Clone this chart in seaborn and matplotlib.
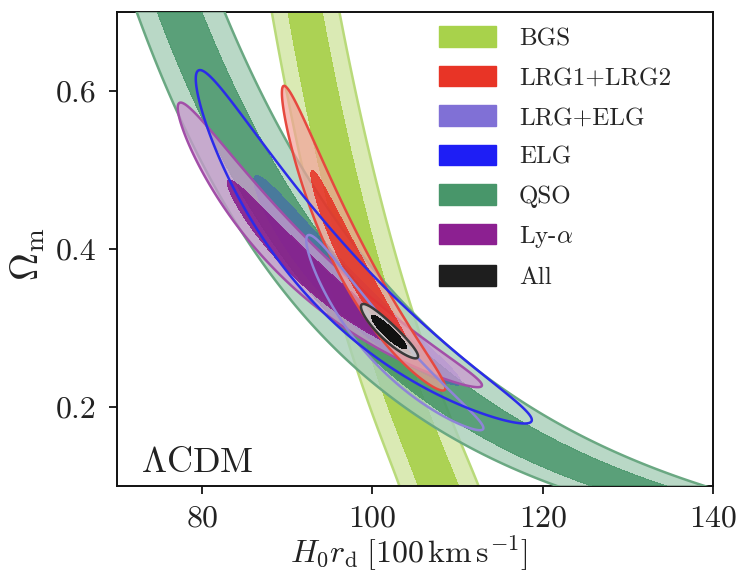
import numpy as np
import matplotlib
matplotlib.use("Agg")
import matplotlib.pyplot as plt
import seaborn as sns
from matplotlib.patches import Patch

# BAO posteriors per tracer, each described as a Gaussian in (ln H0rd, ln Om)
# around a pivot, with a (slightly curved) degeneracy direction.
samples = ["BGS", "LRG1+LRG2", "LRG+ELG", "ELG", "QSO", r"Ly-$\alpha$", "All"]
h0rd_pivot = [100.9, 98.5, 102.1, 97.8, 99.7, 93.3, 101.95]
om_pivot = [0.300, 0.366, 0.267, 0.335, 0.300, 0.363, 0.294]
deg_slope = [-0.087, -0.187, -0.219, -0.312, -0.275, -0.389, -0.257]
deg_curv = [-0.025, 0.0, 0.0, -0.0225, -0.030, 0.0, 0.0]
sig_across = [0.022, 0.0095, 0.011, 0.021, 0.034, 0.0167, 0.0055]
sig_along = [np.inf, 0.205, 0.182, 0.254, np.inf, 0.1945, 0.0477]

x_ticks = [80, 100, 120, 140]
y_ticks = [0.2, 0.4, 0.6]

# stacking of fills and outlines (wide bands underneath, combined result on top)
fill_z = {"BGS": 2, "QSO": 3, "ELG": 4, r"Ly-$\alpha$": 5, "LRG1+LRG2": 6, "LRG+ELG": 7, "All": 9}
line_z = {"BGS": 2.5, "QSO": 3.5, "ELG": 8.5, r"Ly-$\alpha$": 5.5, "LRG1+LRG2": 6.5,
          "LRG+ELG": 7.5, "All": 9.5}

styles = {
    "BGS": dict(dark="#a8d04b", light="#d8e9b0", edge="#b9da7a", fill=(0.95, 0.95)),
    "LRG1+LRG2": dict(dark="#e8342a", light="#f3a29a", edge="#e6493f", fill=(0.9, 0.7)),
    "LRG+ELG": dict(dark="#8070d6", light="#8070d6", edge="#8f84d8", fill=(0.0, 0.0)),
    "ELG": dict(dark="#2424f0", light="#2424f0", edge="#2b2bea", fill=(0.3, 0.0)),
    "QSO": dict(dark="#48966a", light="#a8cfb8", edge="#6aa882", fill=(0.9, 0.8)),
    r"Ly-$\alpha$": dict(dark="#8a1f8e", light="#cb9bd0", edge="#a24fa8", fill=(0.92, 0.75)),
    "All": dict(dark="#111111", light="#c9c9c9", edge="#3a3a3a", fill=(1.0, 0.9)),
}
legend_colors = ["#a8d24b", "#e83426", "#8070d6", "#1e1ef5", "#48966a", "#8c2091", "#1e1e1e"]

sns.set_theme(style="ticks")
plt.rcParams["font.family"] = ["cmr10", "DejaVu Serif"]
plt.rcParams["mathtext.fontset"] = "cm"
plt.rcParams["axes.formatter.use_mathtext"] = True
plt.rcParams["axes.unicode_minus"] = False

fig = plt.figure(figsize=(7.37, 5.82), dpi=100)
ax = fig.add_axes([0.1588, 0.1649, 0.8086, 0.8145])

hg = np.linspace(40, 240, 2001)
og = np.linspace(0.005, 0.995, 1981)
H, OM = np.meshgrid(hg, og)
lnH, lnOM = np.log(H), np.log(OM)


def credible_levels(dens, fracs):
    flat = np.sort(dens.ravel())[::-1]
    cum = np.cumsum(flat)
    cum /= cum[-1]
    return [flat[min(np.searchsorted(cum, f), flat.size - 1)] for f in fracs]


for i, name in enumerate(samples):
    q = lnOM - np.log(om_pivot[i])
    d = lnH - np.log(h0rd_pivot[i]) - deg_slope[i] * q - deg_curv[i] * q ** 2
    chi2 = (d / sig_across[i]) ** 2
    if np.isfinite(sig_along[i]):
        chi2 = chi2 + (q / sig_along[i]) ** 2
    dens = np.exp(-0.5 * chi2)
    l68, l95 = credible_levels(dens, [0.68, 0.95])
    st = styles[name]
    a68, a95 = st["fill"]
    if a95 > 0:
        ax.contourf(H, OM, dens, levels=[l95, l68], colors=[st["light"]], alpha=a95,
                    zorder=fill_z[name])
    if a68 > 0:
        ax.contourf(H, OM, dens, levels=[l68, 1.01], colors=[st["dark"]], alpha=a68,
                    zorder=fill_z[name])
    ax.contour(H, OM, dens, levels=[l95], colors=[st["edge"]], linewidths=1.8,
               zorder=line_z[name])

ax.set_xlim(70, 140)
ax.set_ylim(0.1, 0.7)
ax.set_xticks(x_ticks)
ax.set_yticks(y_ticks)
ax.set_xticklabels([str(t) for t in x_ticks])
ax.set_yticklabels([f"{t:.1f}" for t in y_ticks])
ax.tick_params(axis="both", direction="out", length=6, width=1.2, labelsize=23, color="black",
               labelcolor="#222222")
ax.tick_params(axis="x", pad=8)
ax.tick_params(axis="y", pad=9)
for sp in ax.spines.values():
    sp.set_visible(True)
    sp.set_color("#111111")
    sp.set_linewidth(1.4)

ax.set_xlabel(r"$H_0r_\mathrm{d}\;[100\,\mathrm{km\,s^{-1}}]$", fontsize=23, color="#222222")
ax.xaxis.set_label_coords(0.49, -0.1)
ax.set_ylabel(r"$\Omega_\mathrm{m}$", fontsize=28, color="#222222")
ax.yaxis.set_label_coords(-0.118, 0.49)

ax.text(0.04, 0.03, r"$\Lambda\mathrm{CDM}$", transform=ax.transAxes, fontsize=26,
        ha="left", va="baseline", color="#222222", zorder=20)

handles = [Patch(facecolor=c, edgecolor=c, linewidth=1.0) for c in legend_colors]
ax.legend(handles, samples, loc="upper left", bbox_to_anchor=(0.54, 0.97), frameon=False,
          fontsize=18, handlelength=2.3, handleheight=0.9, handletextpad=0.9,
          labelspacing=0.62, borderpad=0, borderaxespad=0)

fig.savefig("out.png", dpi=100)
